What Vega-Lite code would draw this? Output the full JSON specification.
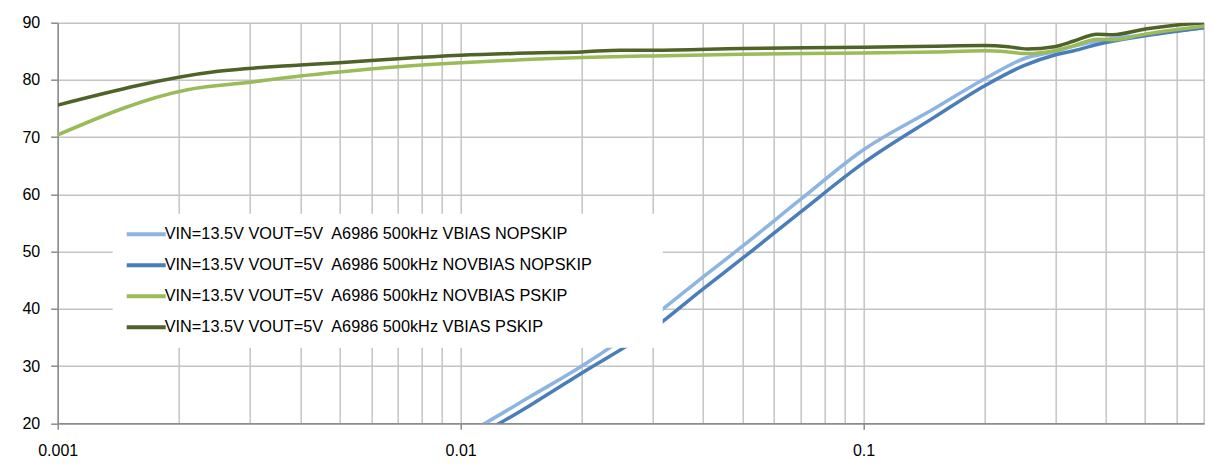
{
  "$schema": "https://vega.github.io/schema/vega-lite/v6.json",
  "width": 1146.3,
  "height": 400.6,
  "autosize": {"type": "none"},
  "padding": {"left": 57.7, "top": 22.7, "right": 27, "bottom": 42.7},
  "background": "white",
  "config": {"font": "Liberation Sans", "view": {"stroke": null}},
  "data": {"values": [
    {"Series": "VIN=13.5V VOUT=5V\u00a0 A6986 500kHz VBIAS NOPSKIP", "Iout": 0.009, "Efficiency": 15.8},
    {"Series": "VIN=13.5V VOUT=5V\u00a0 A6986 500kHz VBIAS NOPSKIP", "Iout": 0.0115, "Efficiency": 20.0},
    {"Series": "VIN=13.5V VOUT=5V\u00a0 A6986 500kHz VBIAS NOPSKIP", "Iout": 0.015, "Efficiency": 24.8},
    {"Series": "VIN=13.5V VOUT=5V\u00a0 A6986 500kHz VBIAS NOPSKIP", "Iout": 0.02, "Efficiency": 30.0},
    {"Series": "VIN=13.5V VOUT=5V\u00a0 A6986 500kHz VBIAS NOPSKIP", "Iout": 0.03, "Efficiency": 38.6},
    {"Series": "VIN=13.5V VOUT=5V\u00a0 A6986 500kHz VBIAS NOPSKIP", "Iout": 0.04, "Efficiency": 45.6},
    {"Series": "VIN=13.5V VOUT=5V\u00a0 A6986 500kHz VBIAS NOPSKIP", "Iout": 0.05, "Efficiency": 50.9},
    {"Series": "VIN=13.5V VOUT=5V\u00a0 A6986 500kHz VBIAS NOPSKIP", "Iout": 0.07, "Efficiency": 59.2},
    {"Series": "VIN=13.5V VOUT=5V\u00a0 A6986 500kHz VBIAS NOPSKIP", "Iout": 0.1, "Efficiency": 67.8},
    {"Series": "VIN=13.5V VOUT=5V\u00a0 A6986 500kHz VBIAS NOPSKIP", "Iout": 0.15, "Efficiency": 75.0},
    {"Series": "VIN=13.5V VOUT=5V\u00a0 A6986 500kHz VBIAS NOPSKIP", "Iout": 0.2, "Efficiency": 80.2},
    {"Series": "VIN=13.5V VOUT=5V\u00a0 A6986 500kHz VBIAS NOPSKIP", "Iout": 0.25, "Efficiency": 83.7},
    {"Series": "VIN=13.5V VOUT=5V\u00a0 A6986 500kHz VBIAS NOPSKIP", "Iout": 0.3, "Efficiency": 85.0},
    {"Series": "VIN=13.5V VOUT=5V\u00a0 A6986 500kHz VBIAS NOPSKIP", "Iout": 0.333, "Efficiency": 85.9},
    {"Series": "VIN=13.5V VOUT=5V\u00a0 A6986 500kHz VBIAS NOPSKIP", "Iout": 0.38, "Efficiency": 86.8},
    {"Series": "VIN=13.5V VOUT=5V\u00a0 A6986 500kHz VBIAS NOPSKIP", "Iout": 0.5, "Efficiency": 87.9},
    {"Series": "VIN=13.5V VOUT=5V\u00a0 A6986 500kHz VBIAS NOPSKIP", "Iout": 0.6, "Efficiency": 88.6},
    {"Series": "VIN=13.5V VOUT=5V\u00a0 A6986 500kHz VBIAS NOPSKIP", "Iout": 0.7, "Efficiency": 89.1},

    {"Series": "VIN=13.5V VOUT=5V\u00a0 A6986 500kHz NOVBIAS NOPSKIP", "Iout": 0.01, "Efficiency": 16.4},
    {"Series": "VIN=13.5V VOUT=5V\u00a0 A6986 500kHz NOVBIAS NOPSKIP", "Iout": 0.0125, "Efficiency": 20.0},
    {"Series": "VIN=13.5V VOUT=5V\u00a0 A6986 500kHz NOVBIAS NOPSKIP", "Iout": 0.015, "Efficiency": 23.3},
    {"Series": "VIN=13.5V VOUT=5V\u00a0 A6986 500kHz NOVBIAS NOPSKIP", "Iout": 0.02, "Efficiency": 28.8},
    {"Series": "VIN=13.5V VOUT=5V\u00a0 A6986 500kHz NOVBIAS NOPSKIP", "Iout": 0.03, "Efficiency": 36.5},
    {"Series": "VIN=13.5V VOUT=5V\u00a0 A6986 500kHz NOVBIAS NOPSKIP", "Iout": 0.04, "Efficiency": 43.5},
    {"Series": "VIN=13.5V VOUT=5V\u00a0 A6986 500kHz NOVBIAS NOPSKIP", "Iout": 0.05, "Efficiency": 48.8},
    {"Series": "VIN=13.5V VOUT=5V\u00a0 A6986 500kHz NOVBIAS NOPSKIP", "Iout": 0.07, "Efficiency": 57.0},
    {"Series": "VIN=13.5V VOUT=5V\u00a0 A6986 500kHz NOVBIAS NOPSKIP", "Iout": 0.1, "Efficiency": 65.5},
    {"Series": "VIN=13.5V VOUT=5V\u00a0 A6986 500kHz NOVBIAS NOPSKIP", "Iout": 0.15, "Efficiency": 73.5},
    {"Series": "VIN=13.5V VOUT=5V\u00a0 A6986 500kHz NOVBIAS NOPSKIP", "Iout": 0.2, "Efficiency": 79.0},
    {"Series": "VIN=13.5V VOUT=5V\u00a0 A6986 500kHz NOVBIAS NOPSKIP", "Iout": 0.25, "Efficiency": 82.5},
    {"Series": "VIN=13.5V VOUT=5V\u00a0 A6986 500kHz NOVBIAS NOPSKIP", "Iout": 0.3, "Efficiency": 84.4},
    {"Series": "VIN=13.5V VOUT=5V\u00a0 A6986 500kHz NOVBIAS NOPSKIP", "Iout": 0.333, "Efficiency": 85.1},
    {"Series": "VIN=13.5V VOUT=5V\u00a0 A6986 500kHz NOVBIAS NOPSKIP", "Iout": 0.38, "Efficiency": 86.2},
    {"Series": "VIN=13.5V VOUT=5V\u00a0 A6986 500kHz NOVBIAS NOPSKIP", "Iout": 0.5, "Efficiency": 87.7},
    {"Series": "VIN=13.5V VOUT=5V\u00a0 A6986 500kHz NOVBIAS NOPSKIP", "Iout": 0.6, "Efficiency": 88.5},
    {"Series": "VIN=13.5V VOUT=5V\u00a0 A6986 500kHz NOVBIAS NOPSKIP", "Iout": 0.7, "Efficiency": 89.1},

    {"Series": "VIN=13.5V VOUT=5V\u00a0 A6986 500kHz NOVBIAS PSKIP", "Iout": 0.001, "Efficiency": 70.4},
    {"Series": "VIN=13.5V VOUT=5V\u00a0 A6986 500kHz NOVBIAS PSKIP", "Iout": 0.0021, "Efficiency": 78.3},
    {"Series": "VIN=13.5V VOUT=5V\u00a0 A6986 500kHz NOVBIAS PSKIP", "Iout": 0.003, "Efficiency": 79.6},
    {"Series": "VIN=13.5V VOUT=5V\u00a0 A6986 500kHz NOVBIAS PSKIP", "Iout": 0.004, "Efficiency": 80.7},
    {"Series": "VIN=13.5V VOUT=5V\u00a0 A6986 500kHz NOVBIAS PSKIP", "Iout": 0.005, "Efficiency": 81.4},
    {"Series": "VIN=13.5V VOUT=5V\u00a0 A6986 500kHz NOVBIAS PSKIP", "Iout": 0.007, "Efficiency": 82.3},
    {"Series": "VIN=13.5V VOUT=5V\u00a0 A6986 500kHz NOVBIAS PSKIP", "Iout": 0.01, "Efficiency": 83.0},
    {"Series": "VIN=13.5V VOUT=5V\u00a0 A6986 500kHz NOVBIAS PSKIP", "Iout": 0.015, "Efficiency": 83.6},
    {"Series": "VIN=13.5V VOUT=5V\u00a0 A6986 500kHz NOVBIAS PSKIP", "Iout": 0.02, "Efficiency": 83.9},
    {"Series": "VIN=13.5V VOUT=5V\u00a0 A6986 500kHz NOVBIAS PSKIP", "Iout": 0.03, "Efficiency": 84.2},
    {"Series": "VIN=13.5V VOUT=5V\u00a0 A6986 500kHz NOVBIAS PSKIP", "Iout": 0.05, "Efficiency": 84.5},
    {"Series": "VIN=13.5V VOUT=5V\u00a0 A6986 500kHz NOVBIAS PSKIP", "Iout": 0.1, "Efficiency": 84.7},
    {"Series": "VIN=13.5V VOUT=5V\u00a0 A6986 500kHz NOVBIAS PSKIP", "Iout": 0.15, "Efficiency": 84.9},
    {"Series": "VIN=13.5V VOUT=5V\u00a0 A6986 500kHz NOVBIAS PSKIP", "Iout": 0.2, "Efficiency": 85.1},
    {"Series": "VIN=13.5V VOUT=5V\u00a0 A6986 500kHz NOVBIAS PSKIP", "Iout": 0.2285, "Efficiency": 84.9},
    {"Series": "VIN=13.5V VOUT=5V\u00a0 A6986 500kHz NOVBIAS PSKIP", "Iout": 0.2546, "Efficiency": 84.6},
    {"Series": "VIN=13.5V VOUT=5V\u00a0 A6986 500kHz NOVBIAS PSKIP", "Iout": 0.2975, "Efficiency": 85.1},
    {"Series": "VIN=13.5V VOUT=5V\u00a0 A6986 500kHz NOVBIAS PSKIP", "Iout": 0.333, "Efficiency": 86.0},
    {"Series": "VIN=13.5V VOUT=5V\u00a0 A6986 500kHz NOVBIAS PSKIP", "Iout": 0.38, "Efficiency": 87.1},
    {"Series": "VIN=13.5V VOUT=5V\u00a0 A6986 500kHz NOVBIAS PSKIP", "Iout": 0.416, "Efficiency": 87.0},
    {"Series": "VIN=13.5V VOUT=5V\u00a0 A6986 500kHz NOVBIAS PSKIP", "Iout": 0.5, "Efficiency": 88.0},
    {"Series": "VIN=13.5V VOUT=5V\u00a0 A6986 500kHz NOVBIAS PSKIP", "Iout": 0.6, "Efficiency": 88.8},
    {"Series": "VIN=13.5V VOUT=5V\u00a0 A6986 500kHz NOVBIAS PSKIP", "Iout": 0.7, "Efficiency": 89.4},

    {"Series": "VIN=13.5V VOUT=5V\u00a0 A6986 500kHz VBIAS PSKIP", "Iout": 0.001, "Efficiency": 75.6},
    {"Series": "VIN=13.5V VOUT=5V\u00a0 A6986 500kHz VBIAS PSKIP", "Iout": 0.0025, "Efficiency": 81.5},
    {"Series": "VIN=13.5V VOUT=5V\u00a0 A6986 500kHz VBIAS PSKIP", "Iout": 0.004, "Efficiency": 82.6},
    {"Series": "VIN=13.5V VOUT=5V\u00a0 A6986 500kHz VBIAS PSKIP", "Iout": 0.005, "Efficiency": 83.0},
    {"Series": "VIN=13.5V VOUT=5V\u00a0 A6986 500kHz VBIAS PSKIP", "Iout": 0.007, "Efficiency": 83.7},
    {"Series": "VIN=13.5V VOUT=5V\u00a0 A6986 500kHz VBIAS PSKIP", "Iout": 0.01, "Efficiency": 84.3},
    {"Series": "VIN=13.5V VOUT=5V\u00a0 A6986 500kHz VBIAS PSKIP", "Iout": 0.015, "Efficiency": 84.7},
    {"Series": "VIN=13.5V VOUT=5V\u00a0 A6986 500kHz VBIAS PSKIP", "Iout": 0.02, "Efficiency": 84.9},
    {"Series": "VIN=13.5V VOUT=5V\u00a0 A6986 500kHz VBIAS PSKIP", "Iout": 0.025, "Efficiency": 85.2},
    {"Series": "VIN=13.5V VOUT=5V\u00a0 A6986 500kHz VBIAS PSKIP", "Iout": 0.03, "Efficiency": 85.2},
    {"Series": "VIN=13.5V VOUT=5V\u00a0 A6986 500kHz VBIAS PSKIP", "Iout": 0.05, "Efficiency": 85.5},
    {"Series": "VIN=13.5V VOUT=5V\u00a0 A6986 500kHz VBIAS PSKIP", "Iout": 0.1, "Efficiency": 85.7},
    {"Series": "VIN=13.5V VOUT=5V\u00a0 A6986 500kHz VBIAS PSKIP", "Iout": 0.15, "Efficiency": 85.9},
    {"Series": "VIN=13.5V VOUT=5V\u00a0 A6986 500kHz VBIAS PSKIP", "Iout": 0.2, "Efficiency": 86.0},
    {"Series": "VIN=13.5V VOUT=5V\u00a0 A6986 500kHz VBIAS PSKIP", "Iout": 0.2285, "Efficiency": 85.8},
    {"Series": "VIN=13.5V VOUT=5V\u00a0 A6986 500kHz VBIAS PSKIP", "Iout": 0.2546, "Efficiency": 85.4},
    {"Series": "VIN=13.5V VOUT=5V\u00a0 A6986 500kHz VBIAS PSKIP", "Iout": 0.2975, "Efficiency": 85.8},
    {"Series": "VIN=13.5V VOUT=5V\u00a0 A6986 500kHz VBIAS PSKIP", "Iout": 0.333, "Efficiency": 86.8},
    {"Series": "VIN=13.5V VOUT=5V\u00a0 A6986 500kHz VBIAS PSKIP", "Iout": 0.38, "Efficiency": 88.0},
    {"Series": "VIN=13.5V VOUT=5V\u00a0 A6986 500kHz VBIAS PSKIP", "Iout": 0.416, "Efficiency": 87.9},
    {"Series": "VIN=13.5V VOUT=5V\u00a0 A6986 500kHz VBIAS PSKIP", "Iout": 0.5, "Efficiency": 88.9},
    {"Series": "VIN=13.5V VOUT=5V\u00a0 A6986 500kHz VBIAS PSKIP", "Iout": 0.6, "Efficiency": 89.6},
    {"Series": "VIN=13.5V VOUT=5V\u00a0 A6986 500kHz VBIAS PSKIP", "Iout": 0.7, "Efficiency": 90.0}
  ]},
  "mark": {"type": "line", "interpolate": "monotone", "strokeWidth": 3.5, "clip": true},
  "encoding": {
    "x": {
      "field": "Iout", "type": "quantitative",
      "scale": {"type": "log", "domain": [0.001, 0.7], "nice": false},
      "axis": {
        "title": null,
        "values": [0.001, 0.002, 0.003, 0.004, 0.005, 0.006, 0.007, 0.008, 0.009, 0.01, 0.02, 0.03, 0.04, 0.05, 0.06, 0.07, 0.08, 0.09, 0.1, 0.2, 0.3, 0.4, 0.5, 0.6, 0.7],
        "grid": true, "gridColor": "#c4c4c4", "gridWidth": 1.5,
        "domainColor": "#8c8c8c", "domainWidth": 1.5,
        "tickColor": "#8c8c8c", "tickSize": 6, "tickWidth": 1.5,
        "tickOpacity": {"condition": {"test": "abs(log(datum.value)/LN10 - round(log(datum.value)/LN10)) < 0.001", "value": 1}, "value": 0},
        "labelExpr": "abs(log(datum.value)/LN10 - round(log(datum.value)/LN10)) < 0.001 ? format(datum.value, '~g') : ''",
        "labelOverlap": false, "labelBound": false, "labelFlush": false,
        "labelFontSize": 16, "labelColor": "black", "labelPadding": 13
      }
    },
    "y": {
      "field": "Efficiency", "type": "quantitative",
      "scale": {"domain": [20, 90], "nice": false, "zero": false},
      "axis": {
        "title": null,
        "values": [20, 30, 40, 50, 60, 70, 80, 90],
        "grid": true, "gridColor": "#c4c4c4", "gridWidth": 1.5,
        "domainColor": "#8c8c8c", "domainWidth": 1.5,
        "tickColor": "#8c8c8c", "tickSize": 7, "tickWidth": 1.5,
        "labelFontSize": 16, "labelColor": "black", "labelPadding": 11
      }
    },
    "color": {
      "field": "Series", "type": "nominal",
      "scale": {
        "domain": ["VIN=13.5V VOUT=5V\u00a0 A6986 500kHz VBIAS NOPSKIP", "VIN=13.5V VOUT=5V\u00a0 A6986 500kHz NOVBIAS NOPSKIP", "VIN=13.5V VOUT=5V\u00a0 A6986 500kHz NOVBIAS PSKIP", "VIN=13.5V VOUT=5V\u00a0 A6986 500kHz VBIAS PSKIP"],
        "range": ["#8eb4e3", "#4a7ebb", "#9bbb59", "#4f6228"]
      },
      "legend": {
        "orient": "none", "legendX": 55, "legendY": 191,
        "fillColor": "white", "padding": 12, "zindex": 1,
        "title": "\u00a0", "titleOrient": "right", "titlePadding": 58,
        "symbolType": "M-1,0H5", "symbolSize": 169, "symbolStrokeWidth": 4,
        "rowPadding": 14, "labelOffset": 23, "labelLimit": 800,
        "labelFontSize": 16.3, "labelColor": "black"
      }
    }
  }
}
